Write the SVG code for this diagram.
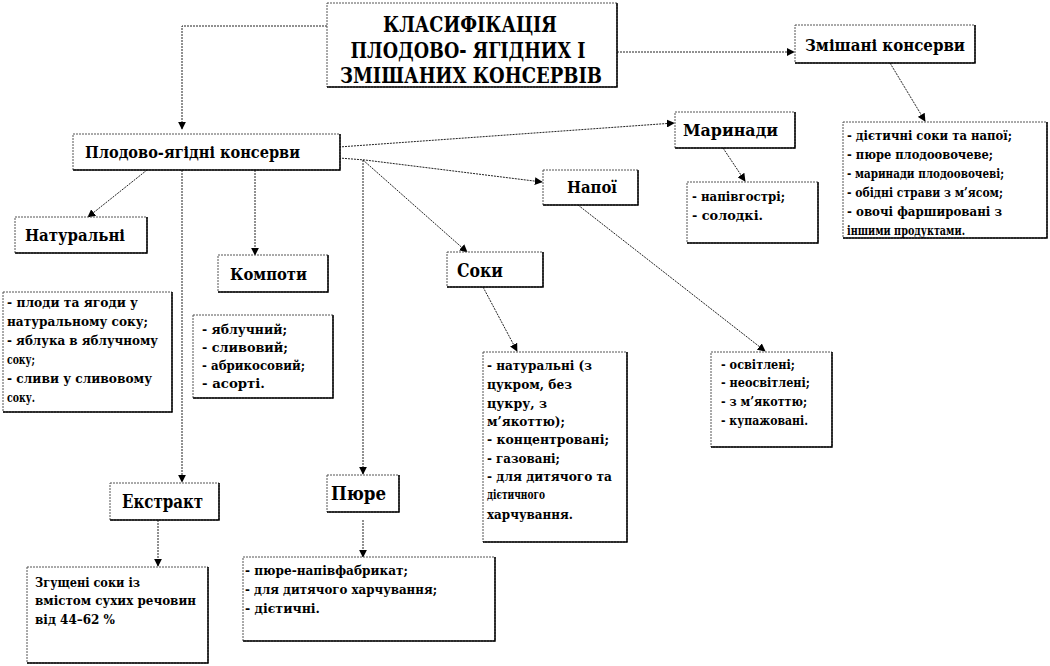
<svg xmlns="http://www.w3.org/2000/svg" width="1050" height="666" viewBox="0 0 1050 666">
<style>
.box{fill:#fff;stroke:#555;stroke-width:1;stroke-dasharray:2,1}
.sh{fill:none;stroke:#000;stroke-width:1.5}
.c{fill:none;stroke:#222;stroke-width:1;stroke-dasharray:2,1;marker-end:url(#a)}
.t{font-family:'DejaVu Serif',serif;font-weight:bold;fill:#000}
.ti{font-size:22px;text-anchor:middle}
.h{font-size:17px}
.hl{font-size:19px}
.l{font-size:13px}
</style>
<defs>
<marker id="a" viewBox="0 0 10 10" refX="9" refY="5" markerWidth="8" markerHeight="8" markerUnits="userSpaceOnUse" orient="auto">
<path d="M0,0 L10,5 L0,10 z" fill="#000"/>
</marker>
</defs>
<rect width="1050" height="666" fill="#fff"/>
<g id="connectors">
<path class="c" d="M327,26 H182 V129"/>
<path class="c" d="M617,52 H794"/>
<path class="c" d="M890,63 L925,121"/>
<path class="c" d="M147,170 L88,217"/>
<path class="c" d="M255,170 V255"/>
<path class="c" d="M182,170 V482"/>
<path class="c" d="M339,147 L674,123"/>
<path class="c" d="M339,158 L365,160 L542,182"/>
<path class="c" d="M363,160 L467,252"/>
<path class="c" d="M363,160 V474"/>
<path class="c" d="M723,148 L745,181"/>
<path class="c" d="M578,205 L765,351"/>
<path class="c" d="M483,287 L517,351"/>
<path class="c" d="M158,520 V566"/>
<path class="c" d="M363,520 V557"/>
</g>
<g id="title">
<rect class="box" x="327" y="3" width="290" height="84"/>
<path class="sh" d="M617,3 V87 H327"/>
<text class="t ti" x="470" y="32" textLength="174" lengthAdjust="spacingAndGlyphs">КЛАСИФІКАЦІЯ</text>
<text class="t ti" x="468" y="58" textLength="235" lengthAdjust="spacingAndGlyphs">ПЛОДОВО- ЯГІДНИХ І</text>
<text class="t ti" x="471" y="83" textLength="262" lengthAdjust="spacingAndGlyphs">ЗМІШАНИХ  КОНСЕРВІВ</text>
</g>
<g id="mixed">
<rect class="box" x="795" y="25" width="180" height="38"/>
<path class="sh" d="M975,25 V63 H795"/>
<text class="t h" x="805" y="51" textLength="160" lengthAdjust="spacingAndGlyphs">Змішані консерви</text>
</g>
<g id="mixed-list">
<rect class="box" x="843" y="122" width="204" height="116"/>
<path class="sh" d="M1047,122 V238 H843"/>
<text class="t l" x="847" y="140" textLength="165" lengthAdjust="spacingAndGlyphs">- дієтичні соки та напої;</text>
<text class="t l" x="847" y="159" textLength="146" lengthAdjust="spacingAndGlyphs">- пюре плодоовочеве;</text>
<text class="t l" x="847" y="178" textLength="157" lengthAdjust="spacingAndGlyphs">- маринади плодоовочеві;</text>
<text class="t l" x="847" y="197" textLength="156" lengthAdjust="spacingAndGlyphs">- обідні  страви з м’ясом;</text>
<text class="t l" x="847" y="216" textLength="155" lengthAdjust="spacingAndGlyphs">- овочі фаршировані   з</text>
<text class="t l" x="847" y="235" textLength="118" lengthAdjust="spacingAndGlyphs">іншими  продуктами.</text>
</g>
<g id="fruit">
<rect class="box" x="73" y="134" width="267" height="36"/>
<path class="sh" d="M340,134 V170 H73"/>
<text class="t h" x="85" y="158" textLength="215" lengthAdjust="spacingAndGlyphs">Плодово-ягідні консерви</text>
</g>
<g id="natural">
<rect class="box" x="15" y="217" width="132" height="36"/>
<path class="sh" d="M147,217 V253 H15"/>
<text class="t h" x="25" y="241" textLength="100" lengthAdjust="spacingAndGlyphs">Натуральні</text>
</g>
<g id="natural-list">
<rect class="box" x="3" y="292" width="169" height="120"/>
<path class="sh" d="M172,292 V412 H3"/>
<text class="t l" x="7" y="307" textLength="131" lengthAdjust="spacingAndGlyphs">- плоди та ягоди у</text>
<text class="t l" x="7" y="326" textLength="141" lengthAdjust="spacingAndGlyphs">натуральному  соку;</text>
<text class="t l" x="7" y="345" textLength="151" lengthAdjust="spacingAndGlyphs">- яблука  в яблучному</text>
<text class="t l" x="7" y="364" textLength="28" lengthAdjust="spacingAndGlyphs">соку;</text>
<text class="t l" x="7" y="383" textLength="145" lengthAdjust="spacingAndGlyphs">- сливи у сливовому</text>
<text class="t l" x="7" y="402" textLength="28" lengthAdjust="spacingAndGlyphs">соку.</text>
</g>
<g id="compote">
<rect class="box" x="218" y="255" width="110" height="37"/>
<path class="sh" d="M328,255 V292 H218"/>
<text class="t h" x="230" y="280" textLength="77" lengthAdjust="spacingAndGlyphs">Компоти</text>
</g>
<g id="compote-list">
<rect class="box" x="193" y="315" width="140" height="83"/>
<path class="sh" d="M333,315 V398 H193"/>
<text class="t l" x="202" y="334" textLength="85" lengthAdjust="spacingAndGlyphs">- яблучний;</text>
<text class="t l" x="202" y="352" textLength="86" lengthAdjust="spacingAndGlyphs">- сливовий;</text>
<text class="t l" x="202" y="370" textLength="103" lengthAdjust="spacingAndGlyphs">- абрикосовий;</text>
<text class="t l" x="202" y="388" textLength="63" lengthAdjust="spacingAndGlyphs">- асорті.</text>
</g>
<g id="marinades">
<rect class="box" x="675" y="112" width="120" height="36"/>
<path class="sh" d="M795,112 V148 H675"/>
<text class="t h" x="683" y="136" textLength="95" lengthAdjust="spacingAndGlyphs">Маринади</text>
</g>
<g id="marinades-list">
<rect class="box" x="687" y="182" width="131" height="61"/>
<path class="sh" d="M818,182 V243 H687"/>
<text class="t l" x="692" y="201" textLength="93" lengthAdjust="spacingAndGlyphs">- напівгострі;</text>
<text class="t l" x="692" y="220" textLength="71" lengthAdjust="spacingAndGlyphs">- солодкі.</text>
</g>
<g id="drinks">
<rect class="box" x="543" y="170" width="95" height="35"/>
<path class="sh" d="M638,170 V205 H543"/>
<text class="t h" x="567" y="193" textLength="50" lengthAdjust="spacingAndGlyphs">Напої</text>
</g>
<g id="drinks-list">
<rect class="box" x="711" y="352" width="121" height="95"/>
<path class="sh" d="M832,352 V447 H711"/>
<text class="t l" x="721" y="369" textLength="74" lengthAdjust="spacingAndGlyphs">- освітлені;</text>
<text class="t l" x="721" y="387" textLength="89" lengthAdjust="spacingAndGlyphs">- неосвітлені;</text>
<text class="t l" x="721" y="406" textLength="86" lengthAdjust="spacingAndGlyphs">- з м’якоттю;</text>
<text class="t l" x="721" y="425" textLength="87" lengthAdjust="spacingAndGlyphs">- купажовані.</text>
</g>
<g id="juices">
<rect class="box" x="447" y="252" width="96" height="35"/>
<path class="sh" d="M543,252 V287 H447"/>
<text class="t hl" x="457" y="277" textLength="46" lengthAdjust="spacingAndGlyphs">Соки</text>
</g>
<g id="juices-list">
<rect class="box" x="483" y="352" width="144" height="190"/>
<path class="sh" d="M627,352 V542 H483"/>
<text class="t l" x="487" y="370" textLength="105" lengthAdjust="spacingAndGlyphs">- натуральні (з</text>
<text class="t l" x="487" y="389" textLength="85" lengthAdjust="spacingAndGlyphs">цукром, без</text>
<text class="t l" x="487" y="408" textLength="60" lengthAdjust="spacingAndGlyphs">цукру,  з</text>
<text class="t l" x="487" y="426" textLength="78" lengthAdjust="spacingAndGlyphs">м’якоттю);</text>
<text class="t l" x="487" y="444" textLength="122" lengthAdjust="spacingAndGlyphs">- концентровані;</text>
<text class="t l" x="487" y="463" textLength="73" lengthAdjust="spacingAndGlyphs">- газовані;</text>
<text class="t l" x="487" y="481" textLength="125" lengthAdjust="spacingAndGlyphs">- для дитячого та</text>
<text class="t l" x="487" y="499" textLength="58" lengthAdjust="spacingAndGlyphs">дієтичного</text>
<text class="t l" x="487" y="519" textLength="86" lengthAdjust="spacingAndGlyphs">харчування.</text>
</g>
<g id="extract">
<rect class="box" x="110" y="483" width="109" height="37"/>
<path class="sh" d="M219,483 V520 H110"/>
<text class="t hl" x="122" y="508" textLength="81" lengthAdjust="spacingAndGlyphs">Екстракт</text>
</g>
<g id="extract-list">
<rect class="box" x="27" y="567" width="181" height="96"/>
<path class="sh" d="M208,567 V663 H27"/>
<text class="t l" x="35" y="587" textLength="105" lengthAdjust="spacingAndGlyphs">Згущені  соки із</text>
<text class="t l" x="35" y="605" textLength="161" lengthAdjust="spacingAndGlyphs">вмістом сухих  речовин</text>
<text class="t l" x="35" y="624" textLength="80" lengthAdjust="spacingAndGlyphs">від 44–62 %</text>
</g>
<g id="puree">
<rect class="box" x="327" y="475" width="72" height="37"/>
<path class="sh" d="M399,475 V512 H327"/>
<text class="t hl" x="331" y="500" textLength="55" lengthAdjust="spacingAndGlyphs">Пюре</text>
</g>
<g id="puree-list">
<rect class="box" x="243" y="557" width="252" height="84"/>
<path class="sh" d="M495,557 V641 H243"/>
<text class="t l" x="245" y="575" textLength="163" lengthAdjust="spacingAndGlyphs">- пюре-напівфабрикат;</text>
<text class="t l" x="245" y="594" textLength="192" lengthAdjust="spacingAndGlyphs">- для дитячого харчування;</text>
<text class="t l" x="245" y="613" textLength="75" lengthAdjust="spacingAndGlyphs">- дієтичні.</text>
</g>
</svg>
